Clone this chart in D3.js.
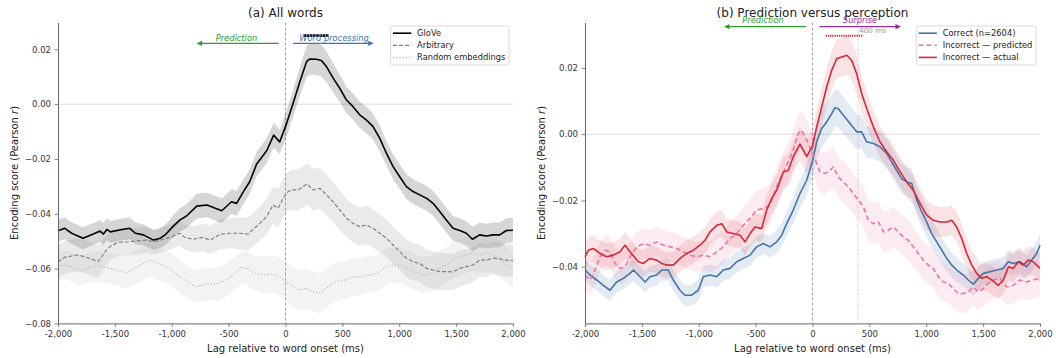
<!DOCTYPE html>
<html>
<head>
<meta charset="utf-8">
<script src="https://cdn.jsdelivr.net/npm/d3@7"></script>
<style>
  body { margin: 0; background: #fff; }
  svg { display: block; font-family: "DejaVu Sans", sans-serif; }
</style>
</head>
<body>
<script>

// ----- Data -----

const X_TICKS = [-2000, -1500, -1000, -500, 0, 500, 1000, 1500, 2000];
const A_Y_TICKS = [0.02, 0, -0.02, -0.04, -0.06, -0.08];
const B_Y_TICKS = [0.02, 0, -0.02, -0.04];

// (a) GloVe
const GLOVE_LAG = [-2000,-1940,-1880,-1780,-1690,-1630,-1600,-1570,-1540,-1460,-1370,-1320,-1250,-1160,-1100,-1050,-990,-930,-870,-780,-690,-640,-560,-475,-430,-370,-315,-253,-164,-104,-51,0,67,126,185,214,272,316,360,419,477,536,594,653,712,770,829,887,946,1004,1063,1121,1180,1239,1297,1356,1414,1473,1532,1590,1643,1707,1766,1825,1883,1942,2000];
const GLOVE_R = [-0.0462,-0.0453,-0.0471,-0.0489,-0.0474,-0.0463,-0.0474,-0.0457,-0.0466,-0.0459,-0.0453,-0.0471,-0.0477,-0.0496,-0.0489,-0.0474,-0.0447,-0.0423,-0.0408,-0.0372,-0.0368,-0.0376,-0.0389,-0.0356,-0.0362,-0.0319,-0.0283,-0.0218,-0.0169,-0.0113,-0.0138,-0.0082,0.0003,0.0082,0.0155,0.0165,0.0164,0.0159,0.0137,0.0095,0.0058,0.0015,-0.0009,-0.0039,-0.0058,-0.0082,-0.0125,-0.0179,-0.0228,-0.0265,-0.0301,-0.0319,-0.0331,-0.0343,-0.0362,-0.0392,-0.0423,-0.0453,-0.0461,-0.0471,-0.0493,-0.0477,-0.0481,-0.0477,-0.0477,-0.0461,-0.046];
const GLOVE_SEM = [0.004,0.004,0.004,0.004,0.004,0.004,0.004,0.004,0.004,0.004,0.004,0.004,0.0038,0.0036,0.0036,0.0038,0.004,0.0042,0.0044,0.0045,0.0045,0.0045,0.0045,0.0045,0.0045,0.0045,0.0045,0.0045,0.0045,0.0045,0.0045,0.0048,0.005,0.0053,0.0056,0.0058,0.0058,0.0058,0.0056,0.0053,0.005,0.0048,0.0048,0.0048,0.0048,0.0048,0.0048,0.0045,0.0045,0.0045,0.0045,0.0045,0.0045,0.0045,0.0045,0.0045,0.0045,0.0045,0.0045,0.0045,0.0045,0.0045,0.0045,0.0045,0.0045,0.0045,0.0045];

// (a) Arbitrary
const ARB_LAG = [-2000,-1941,-1882,-1824,-1765,-1706,-1648,-1604,-1574,-1530,-1472,-1399,-1311,-1223,-1150,-1076,-1003,-930,-886,-812,-724,-665,-577,-489,-401,-328,-284,-226,-167,-109,-65,-21,23,53,111,190,243,301,360,419,477,536,594,653,712,770,829,887,946,1004,1063,1121,1180,1239,1297,1356,1414,1473,1532,1590,1649,1707,1766,1825,1883,1942,2000];
const ARB_R = [-0.0575,-0.0559,-0.0554,-0.055,-0.0557,-0.0565,-0.0575,-0.055,-0.0532,-0.0516,-0.0504,-0.0503,-0.0499,-0.0496,-0.0502,-0.0493,-0.0484,-0.0471,-0.0486,-0.0493,-0.0486,-0.0496,-0.0475,-0.0471,-0.0471,-0.0474,-0.0457,-0.0435,-0.0411,-0.0368,-0.038,-0.0343,-0.0319,-0.0313,-0.0313,-0.0291,-0.0313,-0.0307,-0.0331,-0.0356,-0.0386,-0.0416,-0.0435,-0.0447,-0.0441,-0.0453,-0.0471,-0.0489,-0.0514,-0.0538,-0.0562,-0.0575,-0.0581,-0.0599,-0.0605,-0.0611,-0.0611,-0.0612,-0.0599,-0.0593,-0.0587,-0.0569,-0.0569,-0.0562,-0.0565,-0.0569,-0.0571];
const ARB_SEM = [0.006,0.006,0.006,0.006,0.006,0.006,0.006,0.0055,0.0053,0.005,0.005,0.005,0.005,0.0048,0.0046,0.0045,0.0045,0.0045,0.0045,0.0047,0.005,0.0052,0.0055,0.0055,0.0058,0.006,0.006,0.0062,0.0065,0.0068,0.007,0.007,0.0072,0.0074,0.0075,0.0076,0.0076,0.0075,0.0074,0.0073,0.0072,0.007,0.007,0.007,0.007,0.007,0.0068,0.0068,0.0068,0.0068,0.0068,0.0068,0.0068,0.0068,0.0068,0.0068,0.0067,0.0066,0.0065,0.0064,0.0063,0.0062,0.0061,0.006,0.006,0.006,0.006];

// (a) Random embeddings
const RND_LAG = [-2000,-1927,-1868,-1795,-1721,-1648,-1574,-1487,-1399,-1311,-1223,-1179,-1106,-1018,-930,-842,-783,-695,-607,-519,-445,-387,-343,-270,-196,-109,-50,23,67,126,185,243,301,360,419,477,536,594,653,712,770,829,887,946,1004,1063,1121,1180,1239,1297,1356,1414,1473,1532,1590,1649,1707,1766,1825,1883,1942,2000];
const RND_R = [-0.0591,-0.0587,-0.0595,-0.0608,-0.0595,-0.0591,-0.0595,-0.0605,-0.0615,-0.0595,-0.0575,-0.0569,-0.0583,-0.0599,-0.063,-0.0654,-0.0666,-0.0656,-0.0656,-0.0642,-0.0617,-0.0595,-0.0599,-0.0617,-0.0623,-0.062,-0.063,-0.0654,-0.0666,-0.0678,-0.0672,-0.0684,-0.069,-0.0672,-0.0654,-0.0642,-0.0642,-0.063,-0.063,-0.0623,-0.0623,-0.0611,-0.0593,-0.0587,-0.0587,-0.0599,-0.0611,-0.062,-0.0623,-0.0617,-0.0599,-0.0587,-0.0569,-0.0557,-0.055,-0.0544,-0.055,-0.0544,-0.055,-0.0562,-0.0587,-0.0605];
const RND_SEM = [0.0052,0.0053,0.0054,0.0055,0.0055,0.0055,0.0056,0.0057,0.0058,0.0059,0.006,0.006,0.006,0.006,0.006,0.006,0.006,0.006,0.006,0.006,0.006,0.006,0.0062,0.0064,0.0066,0.0068,0.007,0.0071,0.0072,0.0073,0.0073,0.0073,0.0072,0.0071,0.007,0.0069,0.0068,0.0068,0.0067,0.0067,0.0066,0.0066,0.0066,0.0066,0.0066,0.0066,0.0066,0.0066,0.0066,0.0066,0.0066,0.0066,0.0066,0.0066,0.0066,0.0066,0.0066,0.0066,0.0066,0.0066,0.0066,0.0066];

// (b) Correct
const COR_LAG = [-2000,-1956,-1897,-1839,-1780,-1722,-1663,-1604,-1575,-1531,-1472,-1429,-1370,-1326,-1268,-1224,-1165,-1121,-1062,-1004,-960,-901,-842,-784,-725,-666,-608,-549,-491,-432,-374,-315,-271,-227,-169,-110,-51,0,37,81,125,169,198,227,271,330,388,432,476,535,593,652,696,740,784,828,872,916,960,1004,1048,1092,1136,1180,1224,1268,1326,1370,1414,1458,1502,1560,1619,1677,1721,1765,1824,1883,1927,1971,2000];
const COR_R = [-0.041,-0.0425,-0.044,-0.0456,-0.0471,-0.0446,-0.0435,-0.042,-0.041,-0.0425,-0.0446,-0.043,-0.0425,-0.041,-0.041,-0.044,-0.0471,-0.0486,-0.0486,-0.0471,-0.043,-0.0425,-0.043,-0.041,-0.0405,-0.0385,-0.0375,-0.0365,-0.034,-0.033,-0.034,-0.0325,-0.0305,-0.027,-0.0229,-0.0179,-0.0139,-0.0082,-0.0023,0.0017,0.0037,0.0062,0.008,0.0077,0.0057,0.0032,0.0007,0.0007,-0.0023,-0.0028,-0.0038,-0.0058,-0.0084,-0.0109,-0.0134,-0.0144,-0.0149,-0.0199,-0.0234,-0.0265,-0.03,-0.0325,-0.035,-0.0375,-0.0395,-0.041,-0.0425,-0.044,-0.0453,-0.0435,-0.042,-0.0415,-0.041,-0.0405,-0.0385,-0.039,-0.0385,-0.04,-0.038,-0.036,-0.0335];
const COR_SEM = [0.0032,0.0032,0.0032,0.0032,0.0032,0.0032,0.0032,0.0032,0.0032,0.0032,0.0032,0.0032,0.0032,0.0032,0.0032,0.0032,0.0032,0.0032,0.0032,0.0032,0.0032,0.0032,0.0032,0.0032,0.0032,0.0032,0.0032,0.0032,0.0032,0.0032,0.0033,0.0034,0.0035,0.0037,0.004,0.0043,0.0046,0.005,0.0053,0.0055,0.0056,0.0056,0.0056,0.0056,0.0055,0.0054,0.0052,0.005,0.0048,0.0046,0.0045,0.0045,0.0045,0.0045,0.0045,0.0045,0.0045,0.0045,0.0045,0.0045,0.0043,0.0042,0.004,0.0038,0.0037,0.0036,0.0035,0.0035,0.0035,0.0035,0.0035,0.0035,0.0035,0.0035,0.0035,0.0035,0.0035,0.0035,0.0035,0.0035,0.0035];

// (b) Incorrect - actual
const ACT_LAG = [-2000,-1970,-1927,-1868,-1809,-1751,-1692,-1648,-1604,-1531,-1487,-1429,-1370,-1326,-1282,-1224,-1165,-1106,-1048,-989,-945,-901,-842,-798,-754,-696,-637,-593,-549,-505,-447,-403,-359,-315,-256,-212,-169,-110,-81,-51,0,37,81,125,169,213,257,301,344,388,432,476,535,593,652,710,769,828,886,945,1004,1062,1121,1180,1224,1268,1312,1356,1400,1444,1487,1531,1575,1634,1678,1722,1765,1809,1853,1897,1941,1971,2000];
const ACT_R = [-0.037,-0.035,-0.0345,-0.036,-0.037,-0.0365,-0.0355,-0.0335,-0.0355,-0.0385,-0.039,-0.0375,-0.038,-0.039,-0.0395,-0.0395,-0.0375,-0.036,-0.035,-0.0335,-0.032,-0.0295,-0.0275,-0.027,-0.0295,-0.03,-0.0305,-0.0325,-0.03,-0.028,-0.0285,-0.0229,-0.0194,-0.0169,-0.0114,-0.0109,-0.0068,-0.003,-0.0048,-0.0068,-0.0035,0.0022,0.0082,0.0143,0.0193,0.0228,0.0233,0.0238,0.0223,0.0183,0.0123,0.0078,0.0022,-0.0023,-0.0053,-0.0078,-0.0113,-0.0144,-0.0169,-0.0209,-0.0244,-0.026,-0.0265,-0.0265,-0.026,-0.028,-0.0315,-0.036,-0.0395,-0.042,-0.0435,-0.043,-0.044,-0.0456,-0.044,-0.04,-0.0405,-0.0385,-0.0395,-0.038,-0.0385,-0.0395,-0.0405];
const ACT_SEM = [0.004,0.004,0.004,0.004,0.004,0.004,0.004,0.004,0.004,0.004,0.004,0.004,0.004,0.004,0.004,0.004,0.004,0.004,0.004,0.004,0.004,0.004,0.004,0.004,0.004,0.004,0.004,0.004,0.004,0.004,0.0042,0.0044,0.0045,0.0046,0.0047,0.0048,0.005,0.005,0.005,0.005,0.0052,0.0054,0.0056,0.0058,0.0058,0.0058,0.0058,0.0058,0.0058,0.0057,0.0055,0.0053,0.005,0.0048,0.0047,0.0046,0.0045,0.0045,0.0045,0.0045,0.0045,0.0045,0.0045,0.0045,0.0045,0.0045,0.0045,0.0045,0.0045,0.0045,0.0042,0.0042,0.0042,0.0042,0.0042,0.0042,0.0042,0.0042,0.0042,0.0042,0.0042,0.0042,0.0042];

// (b) Incorrect - predicted
const PRD_LAG = [-2000,-1956,-1912,-1868,-1824,-1780,-1736,-1692,-1648,-1604,-1546,-1487,-1429,-1370,-1311,-1253,-1194,-1136,-1077,-1018,-960,-901,-842,-784,-725,-666,-608,-549,-491,-432,-374,-315,-271,-227,-169,-125,-95,-51,0,37,66,110,154,183,227,271,315,359,403,447,491,535,579,623,667,710,754,798,842,886,930,974,1018,1062,1106,1150,1194,1238,1282,1326,1370,1414,1458,1502,1546,1590,1649,1707,1765,1824,1883,1941,2000];
const PRD_R = [-0.0425,-0.044,-0.041,-0.037,-0.035,-0.0355,-0.039,-0.0405,-0.04,-0.037,-0.034,-0.033,-0.0335,-0.0325,-0.0335,-0.034,-0.0345,-0.0355,-0.0365,-0.037,-0.0365,-0.037,-0.0355,-0.034,-0.0315,-0.03,-0.0275,-0.0254,-0.0229,-0.0224,-0.0214,-0.0159,-0.0124,-0.0094,-0.0048,0.0002,0.0012,-0.0018,-0.0058,-0.0088,-0.0114,-0.0119,-0.0109,-0.0099,-0.0129,-0.0144,-0.0159,-0.0179,-0.0199,-0.0219,-0.026,-0.027,-0.0265,-0.0295,-0.029,-0.028,-0.0295,-0.031,-0.032,-0.034,-0.036,-0.038,-0.0395,-0.0405,-0.043,-0.0446,-0.045,-0.0466,-0.0481,-0.0481,-0.0476,-0.0461,-0.0476,-0.0466,-0.045,-0.044,-0.0435,-0.0461,-0.0456,-0.044,-0.0446,-0.044,-0.0435];
const PRD_SEM = [0.0045,0.0045,0.0045,0.0045,0.0045,0.0045,0.0045,0.0045,0.0045,0.0045,0.0045,0.0045,0.0045,0.0045,0.0045,0.0045,0.0045,0.0045,0.0045,0.0045,0.0046,0.0047,0.0048,0.0049,0.005,0.0052,0.0054,0.0056,0.0058,0.006,0.006,0.006,0.006,0.006,0.006,0.006,0.006,0.006,0.006,0.006,0.0062,0.0062,0.0062,0.0062,0.0062,0.0062,0.0062,0.0062,0.0062,0.0062,0.0062,0.0062,0.0062,0.0062,0.006,0.006,0.006,0.006,0.006,0.006,0.0058,0.0058,0.0058,0.0058,0.0058,0.0058,0.0058,0.0058,0.0058,0.0058,0.0055,0.0055,0.0055,0.0055,0.0055,0.0055,0.0055,0.0055,0.0055,0.0055,0.0055,0.0055,0.0055];


// ----- Layout constants -----

const WIDTH = 1056;
const HEIGHT = 358;
const PLOT_TOP = 22.5;
const PLOT_BOTTOM = 323.4;

const GREEN = "#2ca02c";
const PURPLE = "#952a9b";
const BLUE = "#4474a8";
const RED = "#d62839";
const PINK = "#e8789f";

// Lag ticks use a plain hyphen, r ticks use the minus sign
function fmtLag(d) {
    return (d < 0 ? "-" : "") + d3.format(",")(Math.abs(d));
}
const fmtR = d3.format(".2f");

function zip(lag, r, sem) {
    return lag.map((l, i) => ({ lag: l, r: r[i], sem: sem[i] }));
}

// Horizontal arrow with a filled head at x1
function arrow(g, x0, x1, yy, color) {
    const dir = Math.sign(x1 - x0);
    g.append("line")
        .attr("x1", x0).attr("x2", x1 - dir * 4)
        .attr("y1", yy).attr("y2", yy)
        .attr("stroke", color)
        .attr("stroke-width", 1.3);
    g.append("path")
        .attr("d", `M${x1},${yy} L${x1 - dir * 5.5},${yy - 2.6} L${x1 - dir * 5.5},${yy + 2.6} Z`)
        .attr("fill", color);
}

function drawLegend(g, right, width, entries) {
    const left = right - width;
    g.append("rect")
        .attr("x", left).attr("y", 26)
        .attr("width", width).attr("height", 39)
        .attr("rx", 2)
        .attr("fill", "#fff").attr("fill-opacity", 0.85)
        .attr("stroke", "#d0d0d0").attr("stroke-width", 0.8);
    entries.forEach((e, i) => {
        const cy = 33.2 + i * 12.1;
        g.append("line")
            .attr("x1", left + 2.3).attr("x2", left + 20.6)
            .attr("y1", cy).attr("y2", cy)
            .attr("stroke", e.color)
            .attr("stroke-width", e.width)
            .attr("stroke-dasharray", e.dash || null);
        g.append("text")
            .attr("x", left + 26.4).attr("y", cy + 3)
            .attr("font-size", "8.3px")
            .attr("fill", "#222")
            .text(e.label);
    });
}

function drawPanel(svg, p) {
    const x = d3.scaleLinear().domain([-2000, 2000]).range([p.left, p.right]);
    const y = d3.scaleLinear().domain(p.yDomain).range([PLOT_BOTTOM, PLOT_TOP]);
    const g = svg.append("g");

    // ----- Reference lines -----
    g.append("line")
        .attr("x1", p.left).attr("x2", p.right)
        .attr("y1", y(0)).attr("y2", y(0))
        .attr("stroke", "#dcdcdc").attr("stroke-width", 1);
    g.append("line")
        .attr("x1", x(0)).attr("x2", x(0))
        .attr("y1", PLOT_TOP).attr("y2", PLOT_BOTTOM)
        .attr("stroke", "#8a8a8a").attr("stroke-width", 0.8)
        .attr("stroke-dasharray", "3,2");
    if (p.extra) p.extra(g, x, y);

    // ----- Bands, then lines -----
    const area = d3.area().x(d => x(d.lag)).y0(d => y(d.r - d.sem)).y1(d => y(d.r + d.sem));
    const line = d3.line().x(d => x(d.lag)).y(d => y(d.r));
    p.series.forEach(s => {
        g.append("path")
            .datum(s.data)
            .attr("d", area)
            .attr("fill", s.band)
            .attr("fill-opacity", s.bandOpacity);
    });
    p.lineOrder.forEach(i => {
        const s = p.series[i];
        g.append("path")
            .datum(s.data)
            .attr("d", line)
            .attr("fill", "none")
            .attr("stroke", s.color)
            .attr("stroke-width", s.width)
            .attr("stroke-dasharray", s.dash || null)
            .attr("stroke-linejoin", "round");
    });

    // ----- Axes -----
    const xAxis = g.append("g")
        .attr("transform", `translate(0,${PLOT_BOTTOM})`)
        .call(d3.axisBottom(x).tickValues(X_TICKS).tickFormat(fmtLag)
            .tickSize(3.5).tickSizeOuter(0).tickPadding(4));
    const yAxis = g.append("g")
        .attr("transform", `translate(${p.left},0)`)
        .call(d3.axisLeft(y).tickValues(p.yTicks).tickFormat(fmtR)
            .tickSize(3.5).tickSizeOuter(0).tickPadding(3.5));
    [xAxis, yAxis].forEach(a => {
        a.attr("font-family", "DejaVu Sans, sans-serif").attr("font-size", "8.5px");
        a.select(".domain").attr("stroke", "#666").attr("stroke-width", 1);
        a.selectAll(".tick line").attr("stroke", "#666").attr("stroke-width", 0.8);
        a.selectAll(".tick text").attr("fill", "#333");
    });

    // ----- Labels -----
    const mid = (p.left + p.right) / 2;
    g.append("text")
        .attr("x", mid).attr("y", 16.5)
        .attr("text-anchor", "middle")
        .attr("font-size", "12px").attr("fill", "#222")
        .text(p.title);
    g.append("text")
        .attr("x", mid).attr("y", 351.5)
        .attr("text-anchor", "middle")
        .attr("font-size", "10px").attr("fill", "#222")
        .text("Lag relative to word onset (ms)");
    const yl = g.append("text")
        .attr("transform", `translate(${p.left - 40.5},${(PLOT_TOP + PLOT_BOTTOM) / 2}) rotate(-90)`)
        .attr("text-anchor", "middle")
        .attr("font-size", "10px").attr("fill", "#222");
    yl.append("tspan").text("Encoding score (Pearson ");
    yl.append("tspan").attr("font-style", "italic").text("r");
    yl.append("tspan").text(")");

    // ----- Arrows and their captions -----
    p.arrows.forEach(a => {
        arrow(g, x(a.from), x(a.to), y(a.at), a.color);
        g.append("text")
            .attr("x", x(a.textAt)).attr("y", y(a.textY))
            .attr("text-anchor", "middle")
            .attr("font-size", "8.3px").attr("font-style", "italic")
            .attr("fill", a.color)
            .text(a.label);
    });

    drawLegend(g, p.right - 4, p.legendWidth, p.legend);
}

function main() {
    const svg = d3.select("body").append("svg")
        .attr("width", WIDTH)
        .attr("height", HEIGHT);

    // ----- (a) All words -----
    drawPanel(svg, {
        left: 58, right: 513,
        yDomain: [-0.08, 0.0298],
        yTicks: A_Y_TICKS,
        title: "(a) All words",
        series: [
            { data: zip(GLOVE_LAG, GLOVE_R, GLOVE_SEM), color: "#000", width: 1.6, band: "#000", bandOpacity: 0.16 },
            { data: zip(ARB_LAG, ARB_R, ARB_SEM), color: "#808080", width: 1.2, dash: "4,2", band: "#808080", bandOpacity: 0.17 },
            { data: zip(RND_LAG, RND_R, RND_SEM), color: "#b8b8b8", width: 1.2, dash: "1.2,2", band: "#b0b0b0", bandOpacity: 0.15 }
        ],
        lineOrder: [2, 1, 0],
        arrows: [
            { from: -59, to: -782, at: 0.0222, color: GREEN, label: "Prediction", textAt: -431, textY: 0.0231 },
            { from: 67, to: 776, at: 0.0222, color: BLUE, label: "Word processing", textAt: 427, textY: 0.0231 }
        ],
        extra: (g, x, y) => {
            // significance bar
            g.append("line")
                .attr("x1", x(161)).attr("x2", x(383))
                .attr("y1", y(0.025)).attr("y2", y(0.025))
                .attr("stroke", "#111").attr("stroke-width", 2.6)
                .attr("stroke-dasharray", "2.6,0.5");
        },
        legendWidth: 118.3,
        legend: [
            { label: "GloVe", color: "#000", width: 1.6 },
            { label: "Arbitrary", color: "#808080", width: 1.2, dash: "4,2" },
            { label: "Random embeddings", color: "#b8b8b8", width: 1.2, dash: "1.2,2" }
        ]
    });

    // ----- (b) Prediction versus perception -----
    drawPanel(svg, {
        left: 585, right: 1040,
        yDomain: [-0.0571, 0.0337],
        yTicks: B_Y_TICKS,
        title: "(b) Prediction versus perception",
        series: [
            { data: zip(COR_LAG, COR_R, COR_SEM), color: BLUE, width: 1.6, band: BLUE, bandOpacity: 0.15 },
            { data: zip(PRD_LAG, PRD_R, PRD_SEM), color: PINK, width: 1.6, dash: "5,3", band: PINK, bandOpacity: 0.15 },
            { data: zip(ACT_LAG, ACT_R, ACT_SEM), color: RED, width: 1.6, band: RED, bandOpacity: 0.13 }
        ],
        lineOrder: [0, 1, 2],
        arrows: [
            { from: -57, to: -778, at: 0.03245, color: GREEN, label: "Prediction", textAt: -435, textY: 0.0337 },
            { from: 60, to: 778, at: 0.03245, color: PURPLE, label: "Surprise", textAt: 418, textY: 0.0337 }
        ],
        extra: (g, x, y) => {
            g.append("line")
                .attr("x1", x(400)).attr("x2", x(400))
                .attr("y1", y(0.0317)).attr("y2", PLOT_BOTTOM)
                .attr("stroke", "#bdbdbd").attr("stroke-width", 0.9)
                .attr("stroke-dasharray", "1,1.5");
            g.append("text")
                .attr("x", x(410)).attr("y", y(0.0305))
                .attr("font-size", "7.2px").attr("fill", "#999")
                .text("400 ms");
            g.append("line")
                .attr("x1", x(116)).attr("x2", x(447))
                .attr("y1", y(0.0297)).attr("y2", y(0.0297))
                .attr("stroke", RED).attr("stroke-width", 2)
                .attr("stroke-dasharray", "1.3,0.9");
        },
        legendWidth: 119.7,
        legend: [
            { label: "Correct (n=2604)", color: BLUE, width: 1.6 },
            { label: "Incorrect \u2014 predicted", color: PINK, width: 1.6, dash: "5,3" },
            { label: "Incorrect \u2014 actual", color: RED, width: 1.6 }
        ]
    });
}

main();
</script>
</body>
</html>
